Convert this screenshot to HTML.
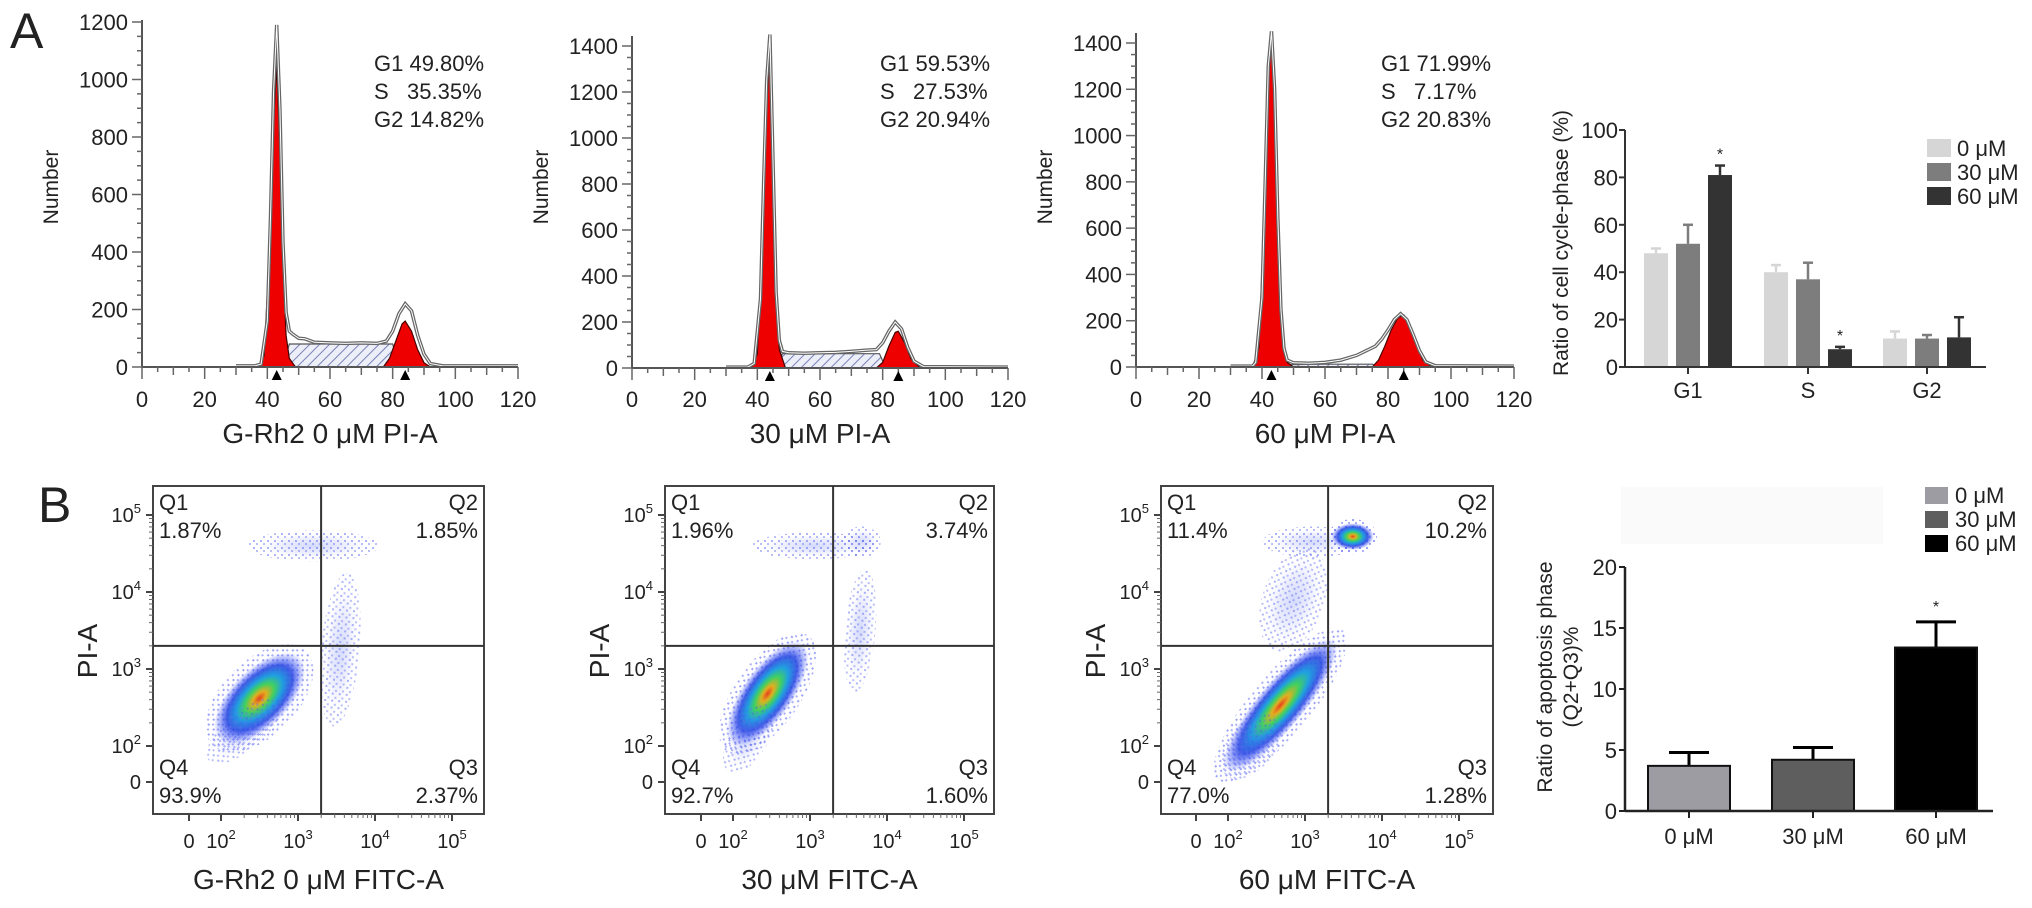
<!DOCTYPE html>
<html><head><meta charset="utf-8">
<style>
html,body{margin:0;padding:0;background:#fff;}
svg{display:block;font-family:"Liberation Sans",Arial,sans-serif;}
text{fill:#222;}
.pre{white-space:pre;}
</style></head>
<body>
<svg id="fig" width="2032" height="908" viewBox="0 0 2032 908" xmlns="http://www.w3.org/2000/svg">
<defs>
<pattern id="hatch" patternUnits="userSpaceOnUse" width="7" height="7" patternTransform="rotate(45)">
<rect width="7" height="7" fill="#eceef8"/><line x1="0" y1="0" x2="0" y2="7" stroke="#7a80b8" stroke-width="2"/>
</pattern>
<radialGradient id="dens">
<stop offset="0" stop-color="#e8401c"/>
<stop offset="0.15" stop-color="#e0b020"/>
<stop offset="0.32" stop-color="#40d060"/>
<stop offset="0.5" stop-color="#20a0e0"/>
<stop offset="0.72" stop-color="#2040e0" stop-opacity="0.85"/>
<stop offset="1" stop-color="#4050ff" stop-opacity="0"/>
</radialGradient>
<radialGradient id="sparse">
<stop offset="0" stop-color="#3050f0" stop-opacity="0.6"/>
<stop offset="0.6" stop-color="#5060f0" stop-opacity="0.3"/>
<stop offset="1" stop-color="#8090ff" stop-opacity="0"/>
</radialGradient>
<pattern id="dots" patternUnits="userSpaceOnUse" width="7" height="7">
<rect x="1" y="1" width="2" height="2" fill="#4a5af0"/><rect x="4" y="4" width="2" height="2" fill="#6a72f0"/>
</pattern>
</defs>
<g id="root"></g>
</svg>
<script>
// ---------- Panel A histograms (outline points: [PI-A value, count]) ----------
const histTitles = ["G-Rh2 0 \u03bcM PI-A", "30 \u03bcM PI-A", "60 \u03bcM PI-A"];
const histStats = [["G1 49.80%","S   35.35%","G2 14.82%"],["G1 59.53%","S   27.53%","G2 20.94%"],["G1 71.99%","S   7.17%","G2 20.83%"]];
const histYTicks = [[0,200,400,600,800,1000,1200],[0,200,400,600,800,1000,1200,1400],[0,200,400,600,800,1000,1200,1400]];
const histXTicks = [0,20,40,60,80,100,120];
const outline1 = [[30,4],[36,4],[38,10],[40,160],[41,520],[42,960],[43,1190],[44,900],[45,430],[46,190],[47,125],[48,115],[50,100],[52,98],[55,86],[60,84],[65,82],[70,84],[75,82],[78,90],[80,125],[82,185],[84,220],[86,195],[88,110],[90,45],[92,12],[96,4],[120,4]];
const outline2 = [[30,4],[37,4],[39,20],[41,300],[42,800],[43,1250],[44,1450],[45,900],[46,330],[47,120],[48,72],[50,66],[55,64],[60,66],[65,68],[70,72],[75,78],[78,80],[80,110],[82,160],[84,200],[86,170],[88,90],[90,30],[93,6],[120,4]];
const outline3 = [[30,4],[37,4],[38,20],[40,300],[41,800],[42,1300],[43,1450],[44,1200],[45,650],[46,250],[47,80],[48,30],[50,18],[55,16],[60,20],[65,30],[70,50],[73,70],[76,90],[78,120],[80,160],[82,205],[84,230],[86,205],[88,140],[90,70],[92,22],[95,5],[120,4]];
const g1Red1 = [[37,0],[39,40],[41,480],[42,850],[43,1050],[44,760],[45,350],[46,110],[47,30],[49,0]];
const g1Red2 = [[38,0],[40,60],[42,700],[43,1150],[44,1370],[45,850],[46,300],[47,80],[49,0]];
const g1Red3 = [[37,0],[39,80],[41,750],[42,1250],[43,1400],[44,1150],[45,600],[46,200],[48,20],[50,0]];
const g2Red1 = [[77,0],[79,30],[81,90],[83,150],[84,160],[86,125],[88,60],[90,15],[92,0]];
const g2Red2 = [[78,0],[80,25],[82,95],[84,155],[85,160],[87,110],[89,40],[92,0]];
const g2Red3 = [[75,0],[77,30],[79,90],[81,160],[83,210],[85,225],[87,180],[89,100],[91,30],[94,0]];
const sPhase1 = [[45,0],[47,80],[60,80],[80,80],[82,0]];
const sPhase2 = [[46,0],[48,62],[60,62],[79,62],[81,0]];
const sPhase3 = [[47,0],[49,10],[60,12],[75,12],[77,0]];
const peakMarks = [[43,84],[44,85],[43,85]];

// ---------- Panel A bar chart ----------
const phaseCats = ["G1","S","G2"];
const conc = ["0 \u03bcM","30 \u03bcM","60 \u03bcM"];
const cycle0 = [48,40,12];
const cycle30 = [52,37,12];
const cycle60 = [81,7.5,12.5];
const cycleErr0 = [2,3,3];
const cycleErr30 = [8,7,1.5];
const cycleErr60 = [4,1,8.5];
const cycleSig60 = [true,true,false];
const cycleTicks = [0,20,40,60,80,100];

// ---------- Panel B scatter (clusters in log10 units: [logFITC, logPI, lengthDec, widthDec, angle, kind]) ----------
const scatTitles = ["G-Rh2 0 \u03bcM FITC-A","30 \u03bcM FITC-A","60 \u03bcM FITC-A"];
const quadLabels = [["1.87%","1.85%","2.37%","93.9%"],["1.96%","3.74%","1.60%","92.7%"],["11.4%","10.2%","1.28%","77.0%"]];
const clusters1 = [[2.5,2.62,1.5,0.75,-45,"dens"],[3.55,3.25,2.0,0.5,-85,"sparse"],[3.2,4.6,1.7,0.4,0,"sparse"],[2.3,2.2,1.2,0.5,-40,"sparse"]];
const clusters2 = [[2.45,2.68,1.6,0.65,-55,"dens"],[3.65,3.5,1.6,0.4,-85,"sparse"],[3.05,4.6,1.6,0.35,0,"sparse"],[3.67,4.65,0.5,0.4,0,"sparse"],[2.2,2.1,1.0,0.5,-60,"sparse"]];
const clusters3 = [[2.68,2.53,2.2,0.6,-50,"dens"],[3.1,4.65,1.3,0.4,0,"sparse"],[3.62,4.72,0.55,0.35,0,"dens"],[2.85,3.9,1.4,0.8,-70,"sparse"],[2.3,2.0,1.0,0.6,-50,"sparse"]];
const quadX = [3.3,3.3,3.3];
const quadY = [3.3,3.3,3.3];
const logTicks = ["0","10","10","10","10"];
const logExp = ["","2","3","4","5"];
const logVals = [0,2,3,4,5];

// ---------- Panel B bar chart ----------
const apopCats = ["0 \u03bcM","30 \u03bcM","60 \u03bcM"];
const apopVals = [3.7,4.2,13.4];
const apopErr = [1.1,1.0,2.1];
const apopSig = [false,false,true];
const apopTicks = [0,5,10,15,20];

const NS="http://www.w3.org/2000/svg";
const root=document.getElementById('root');
function el(tag,attrs,parent,txt){const e=document.createElementNS(NS,tag);for(const k in attrs)e.setAttribute(k,attrs[k]);if(txt!==undefined)e.textContent=txt;(parent||root).appendChild(e);return e;}

let t=el('text',{x:10,y:48,'font-size':50},root,'A');


t=el('text',{x:38,y:522,'font-size':50},root,'B');



// ----- histograms -----
const histLayout=[{ax:142,x120:518,y0:367,top:1200,ytop:22},{ax:632,x120:1008,y0:368,top:1400,ytop:46},{ax:1136,x120:1514,y0:367,top:1400,ytop:43}];
const outlines=[outline1,outline2,outline3],g1s=[g1Red1,g1Red2,g1Red3],g2s=[g2Red1,g2Red2,g2Red3],ss=[sPhase1,sPhase2,sPhase3];
histLayout.forEach((L,i)=>{
  const g=el('g',{});
  
  
  const sx=v=>L.ax+(v/120)*(L.x120-L.ax);
  const sy=v=>L.y0-(v/L.top)*(L.y0-L.ytop);
  const pts=a=>a.map(p=>sx(p[0]).toFixed(1)+','+sy(p[1]).toFixed(1)).join(' ');
  let p=el('polygon',{points:pts(ss[i]),fill:'url(#hatch)',stroke:'#555','stroke-width':1.2},g);
  
  
  p=el('polygon',{points:pts(g1s[i]),fill:'#ee0000',stroke:'#400','stroke-width':1.2},g);
  
  
  p=el('polygon',{points:pts(g2s[i]),fill:'#ee0000',stroke:'#400','stroke-width':1.2},g);
  
  
  p=el('polyline',{points:pts(outlines[i]),fill:'none',stroke:'#666','stroke-width':3.5},g);
  
  
  el('polyline',{points:pts(outlines[i]),fill:'none',stroke:'#fff','stroke-width':1},g);
  const yTopAx=sy(L.top)-2-(i>0?8:0);
  el('line',{x1:L.ax,y1:yTopAx,x2:L.ax,y2:L.y0,stroke:'#555','stroke-width':2},g);
  el('line',{x1:L.ax,y1:L.y0,x2:L.x120,y2:L.y0,stroke:'#555','stroke-width':2},g);
  for(let v=0;v<=L.top+(i>0?100:0);v+=50){const y=sy(v);if(y<yTopAx)break;el('line',{x1:L.ax-(v%200===0?10:5),y1:y,x2:L.ax,y2:y,stroke:'#666','stroke-width':1.5},g);}
  histYTicks[i].forEach(v=>{const tt=el('text',{x:L.ax-14,y:sy(v)+8,'font-size':22,'text-anchor':'end'},g,String(v));});
  for(let v=0;v<=120;v+=5){el('line',{x1:sx(v),y1:L.y0,x2:sx(v),y2:L.y0+(v%20===0?12:(v%10===0?8:5)),stroke:'#666','stroke-width':1.5},g);}
  histXTicks.forEach(v=>{const tt=el('text',{x:sx(v),y:407,'font-size':22,'text-anchor':'middle'},g,String(v));});
  peakMarks[i].forEach(v=>{const m=el('polygon',{points:`${sx(v)-5},${L.y0+13} ${sx(v)+5},${L.y0+13} ${sx(v)},${L.y0+3}`,fill:'#000'},g);});
  let tt=el('text',{x:0,y:0,'font-size':21,'text-anchor':'middle',transform:`translate(${L.ax-84},187) rotate(-90)`},g,'Number');
  
  tt=el('text',{x:(L.ax+L.x120)/2,y:443,'font-size':28,'text-anchor':'middle'},g,histTitles[i]);
  
  const statX=[374,880,1381][i];
  histStats[i].forEach((s,k)=>{const st=el('text',{x:statX,y:71+k*28,'font-size':22,'class':'pre'},g,s);});
});

// ----- cycle bar chart -----
(function(){
  const g=el('g',{});
  
  
  const ax=1625,y0=367,ytop=130,xEnd=1986;
  const sy=v=>y0-(v/100)*(y0-ytop);
  const centers=[1688,1808,1927];
  const cols=['#d6d6d6','#7d7d7d','#333333'];
  const vals=[cycle0,cycle30,cycle60],errs=[cycleErr0,cycleErr30,cycleErr60];
  vals.forEach((arr,s)=>{arr.forEach((v,c)=>{
    const x=centers[c]+(s-1)*32-12;
    const e=errs[s][c];
    el('line',{x1:x+12,y1:sy(v),x2:x+12,y2:sy(v+e),stroke:cols[s],'stroke-width':2.5},g);
    el('line',{x1:x+7,y1:sy(v+e),x2:x+17,y2:sy(v+e),stroke:cols[s],'stroke-width':2.5},g);
    const b=el('rect',{x:x,y:sy(v),width:24,height:y0-sy(v),fill:cols[s]},g);
    
    
    if(s===2&&cycleSig60[c]){const a=el('text',{x:x+12,y:sy(v+e)-6,'font-size':16,'text-anchor':'middle'},g,'*');}
  });});
  el('line',{x1:ax,y1:ytop,x2:ax,y2:y0,stroke:'#333','stroke-width':2},g);
  el('line',{x1:ax,y1:y0,x2:xEnd,y2:y0,stroke:'#333','stroke-width':2},g);
  cycleTicks.forEach(v=>{el('line',{x1:ax-6,y1:sy(v),x2:ax,y2:sy(v),stroke:'#333','stroke-width':2},g);const tt=el('text',{x:ax-7,y:sy(v)+8,'font-size':22,'text-anchor':'end'},g,String(v));});
  centers.forEach((c,i)=>{el('line',{x1:c,y1:y0,x2:c,y2:y0+7,stroke:'#333','stroke-width':2},g);const tt=el('text',{x:c,y:398,'font-size':22,'text-anchor':'middle'},g,phaseCats[i]);});
  let tt=el('text',{x:0,y:0,'font-size':21,'text-anchor':'middle',transform:'translate(1568,243) rotate(-90)'},g,'Ratio of cell cycle-phase (%)');
  
  conc.forEach((c,i)=>{const r=el('rect',{x:1927,y:139+i*24,width:24,height:18,fill:cols[i]},g);const lt=el('text',{x:1957,y:156+i*24,'font-size':22},g,c);});
})();

// ----- scatter plots -----
const scatLayout=[{l:153,r:484,ax0:189,ax2:221,dec:77},{l:665,r:994,ax0:701,ax2:733,dec:77},{l:1161,r:1493,ax0:1196,ax2:1228,dec:77}];
const clusterSets=[clusters1,clusters2,clusters3];
scatLayout.forEach((L,i)=>{
  const g=el('g',{});
  
  
  const top=486,bot=814;
  const sx=v=>v<=0?L.ax0:L.ax2+(v-2)*L.dec;
  const sy=v=>v<=0?782:746-(v-2)*77;
  el('rect',{x:L.l,y:top,width:L.r-L.l,height:bot-top,fill:'#fff'},g);
  const cp=el('clipPath',{id:'cp'+i},g);
  el('rect',{x:L.l,y:top,width:L.r-L.l,height:bot-top},cp);
  const cg=el('g',{'clip-path':`url(#cp${i})`},g);
  clusterSets[i].forEach(c=>{
    const cx=sx(c[0]),cy=sy(c[1]),rx=c[2]*77/2,ry=c[3]*77/2;
    const tr=`rotate(${c[4]} ${cx} ${cy})`;
    if(c[5]==='dens'){
      el('ellipse',{cx:cx,cy:cy,rx:rx*1.15,ry:ry*1.3,fill:'url(#dots)',opacity:0.55,transform:tr},cg);
      const e=el('ellipse',{cx:cx,cy:cy,rx:rx,ry:ry,fill:'url(#dens)',transform:tr},cg);
      
    } else {
      const e=el('ellipse',{cx:cx,cy:cy,rx:rx,ry:ry,fill:'url(#dots)',opacity:0.45,transform:tr},cg);
      
      el('ellipse',{cx:cx,cy:cy,rx:rx*0.8,ry:ry*0.8,fill:'url(#sparse)',opacity:0.35,transform:tr},cg);
    }
  });
  el('rect',{x:L.l,y:top,width:L.r-L.l,height:bot-top,fill:'none',stroke:'#444','stroke-width':2},g);
  const qx=sx(quadX[i]),qy=sy(quadY[i]);
  let q=el('line',{x1:qx,y1:top,x2:qx,y2:bot,stroke:'#333','stroke-width':2},g);
  q=el('line',{x1:L.l,y1:qy,x2:L.r,y2:qy,stroke:'#333','stroke-width':2},g);
  const ql=[['Q1',L.l+6,510,'start'],['Q2',L.r-6,510,'end'],['Q3',L.r-6,775,'end'],['Q4',L.l+6,775,'start']];
  ql.forEach((a,k)=>{const t1=el('text',{x:a[1],y:a[2],'font-size':22,'text-anchor':a[3]},g,a[0]);
    const t2=el('text',{x:a[1],y:a[2]+28,'font-size':22,'text-anchor':a[3]},g,quadLabels[i][k]);});
  logVals.forEach((v,k)=>{
    const y=sy(v),x=sx(v);
    el('line',{x1:L.l-7,y1:y,x2:L.l,y2:y,stroke:'#444','stroke-width':2},g);
    el('line',{x1:x,y1:bot,x2:x,y2:bot+7,stroke:'#444','stroke-width':2},g);
    const ty=el('text',{x:L.l-12,y:y+7,'font-size':20,'text-anchor':'end'},g);
    
    el('tspan',{},ty,logTicks[k]);if(logExp[k])el('tspan',{'font-size':13,dy:-9},ty,logExp[k]);
    const tx=el('text',{x:x,y:848,'font-size':20,'text-anchor':'middle'},g);
    
    el('tspan',{},tx,logTicks[k]);if(logExp[k])el('tspan',{'font-size':13,dy:-9},tx,logExp[k]);
  });
  for(let d=2;d<5;d++)for(let m=2;m<10;m++){const o=Math.log10(m);el('line',{x1:L.l-4,y1:sy(d+o),x2:L.l,y2:sy(d+o),stroke:'#666','stroke-width':1},g);el('line',{x1:sx(d+o),y1:bot,x2:sx(d+o),y2:bot+4,stroke:'#666','stroke-width':1},g);}
  let tt=el('text',{x:0,y:0,'font-size':28,'text-anchor':'middle',transform:`translate(${L.l-56},651) rotate(-90)`},g,'PI-A');
  
  tt=el('text',{x:(L.l+L.r)/2,y:889,'font-size':28,'text-anchor':'middle'},g,scatTitles[i]);
  
});

// ----- apoptosis bar chart -----
(function(){
  const g=el('g',{});
  
  
  el('rect',{x:1621,y:487,width:262,height:57,fill:'#fafafa'},g);
  const ax=1625,y0=811,ytop=567,xEnd=1993;
  const sy=v=>y0-(v/20)*(y0-ytop);
  const centers=[1689,1813,1936];
  const cols=['#9c9ca2','#5e5e5e','#000000'];
  apopVals.forEach((v,i)=>{
    const e=apopErr[i];
    el('line',{x1:centers[i],y1:sy(v),x2:centers[i],y2:sy(v+e),stroke:'#000','stroke-width':3},g);
    el('line',{x1:centers[i]-20,y1:sy(v+e),x2:centers[i]+20,y2:sy(v+e),stroke:'#000','stroke-width':3},g);
    const b=el('rect',{x:centers[i]-41,y:sy(v),width:82,height:y0-sy(v),fill:cols[i],stroke:'#111','stroke-width':2},g);
    
    
    if(apopSig[i]){const a=el('text',{x:centers[i],y:sy(v+e)-10,'font-size':16,'text-anchor':'middle'},g,'*');}
  });
  el('line',{x1:ax,y1:ytop,x2:ax,y2:y0,stroke:'#222','stroke-width':2.5},g);
  el('line',{x1:ax,y1:y0,x2:xEnd,y2:y0,stroke:'#222','stroke-width':2.5},g);
  apopTicks.forEach(v=>{el('line',{x1:ax-6,y1:sy(v),x2:ax,y2:sy(v),stroke:'#222','stroke-width':2},g);const tt=el('text',{x:ax-8,y:sy(v)+8,'font-size':22,'text-anchor':'end'},g,String(v));});
  centers.forEach((c,i)=>{el('line',{x1:c,y1:y0,x2:c,y2:y0+7,stroke:'#222','stroke-width':2},g);const tt=el('text',{x:c,y:844,'font-size':22,'text-anchor':'middle'},g,apopCats[i]);});
  let tt=el('text',{x:0,y:0,'font-size':21,'text-anchor':'middle',transform:'translate(1552,677) rotate(-90)'},g,'Ratio of apoptosis phase');
  
  tt=el('text',{x:0,y:0,'font-size':21,'text-anchor':'middle',transform:'translate(1578,677) rotate(-90)'},g,'(Q2+Q3)%');
  
  apopCats.forEach((c,i)=>{const r=el('rect',{x:1925,y:487+i*24,width:23,height:17,fill:cols[i]},g);const lt=el('text',{x:1955,y:503+i*24,'font-size':22},g,c);});
})();
</script>
</body></html>
